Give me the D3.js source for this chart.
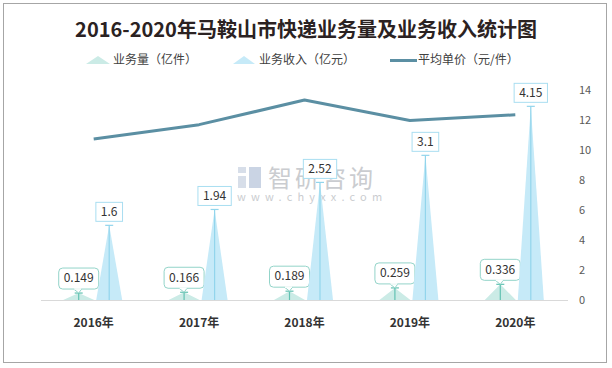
<!DOCTYPE html>
<html><head><meta charset="utf-8">
<script src="https://cdn.jsdelivr.net/npm/d3@7"></script>
<style>
html,body{margin:0;padding:0;background:#fff;}
svg{display:block;font-family:"Microsoft YaHei","Noto Sans CJK SC","Noto Sans",sans-serif;}
</style></head>
<body><svg id="c" width="612" height="368"></svg>
<script>
const categories = ["2016年","2017年","2018年","2019年","2020年"];
const volume = [0.149, 0.166, 0.189, 0.259, 0.336];      // 业务量（亿件）
const revenue = [1.6, 1.94, 2.52, 3.1, 4.15];            // 业务收入（亿元）
const unitPrice = [10.74, 11.69, 13.33, 11.97, 12.35];   // 平均单价（元/件）
const rightTicks = [0,2,4,6,8,10,12,14];
const seriesNames = ["业务量（亿件）","业务收入（亿元）","平均单价（元/件）"];
const title = "2016-2020年马鞍山市快递业务量及业务收入统计图";

const svg = d3.select("#c");
const colVol = "#cbebe6", colVolLine = "#62c2b2", colVolBox = "#93d4c9";
const colRev = "#c6eaf8", colRevLine = "#92d5ec", colRevBox = "#a9def1";
const colLine = "#5b8fa3";

svg.append("rect").attr("x",3.5).attr("y",3.5).attr("width",603).attr("height",359)
  .attr("fill","#fff").attr("stroke","#a6a6a6").attr("stroke-width",1);

svg.append("text").attr("x",306).attr("y",37).attr("text-anchor","middle")
  .attr("font-size",20).attr("font-weight","bold").attr("fill","#2b2222").text(title);

// watermark
const wm = svg.append("g").attr("opacity",0.55);
wm.append("rect").attr("x",238).attr("y",167).attr("width",8).attr("height",6).attr("fill","#b8c4d8");
wm.append("rect").attr("x",238).attr("y",176).attr("width",8).attr("height",12).attr("fill","#b8c4d8");
wm.append("rect").attr("x",249).attr("y",167).attr("width",12).attr("height",21).attr("fill","#9fb2cf");
wm.append("text").attr("x",268).attr("y",187).attr("font-size",24).attr("fill","#a0a4aa").attr("letter-spacing",3).text("智研咨询");
wm.append("text").attr("x",237).attr("y",201).attr("font-size",11).attr("fill","#a0a4aa").attr("letter-spacing",5.2).text("www.chyxx.com");

const x = d3.scaleBand().domain(categories).range([41,568]).padding(0);
const yL = d3.scaleLinear().domain([0,4.5]).range([300,90]);
const yR = d3.scaleLinear().domain([0,14]).range([300,90]);

// baseline
svg.append("line").attr("x1",41).attr("x2",568).attr("y1",300.5).attr("y2",300.5)
  .attr("stroke","#d9d9d9").attr("stroke-width",1);

// right axis
const ax = svg.append("g").attr("transform","translate(579,0)")
  .call(d3.axisRight(yR).tickValues(rightTicks).tickSize(0).tickPadding(0).tickFormat(d3.format("d")));
ax.select(".domain").remove();
ax.selectAll("text").attr("font-size",11).attr("fill","#595959").attr("font-family","'Microsoft YaHei','Noto Sans CJK SC',sans-serif");

// x labels
svg.selectAll(".xl").data(categories).join("text").attr("class","xl")
  .attr("x",d=>x(d)+x.bandwidth()/2).attr("y",327).attr("text-anchor","middle")
  .attr("font-size",12).attr("font-weight","bold").attr("fill","#333").text(d=>d);

const tri = d3.line();
function drawSeries(vals, off, hw, fill, lineCol, boxCol, rounded){
  const g = svg.append("g");
  vals.forEach((v,i)=>{
    const cx = x(categories[i]) + x.bandwidth()/2 + off;
    const yv = yL(v), y0 = yL(0);
    g.append("path").attr("d", tri([[cx-hw,y0],[cx,yv],[cx+hw,y0]])+"Z").attr("fill",fill);
    g.append("line").attr("x1",cx).attr("x2",cx).attr("y1",yv).attr("y2",y0).attr("stroke",lineCol).attr("stroke-width",1.2);
    g.append("line").attr("x1",cx-4).attr("x2",cx+4).attr("y1",yv).attr("y2",yv).attr("stroke",lineCol).attr("stroke-width",1.2);
    const t = g.append("text").attr("x",cx).attr("y",yv-13).attr("text-anchor","middle")
      .attr("dominant-baseline","middle").attr("font-size",12).attr("fill","#333").text(String(v));
    const w = t.node().getComputedTextLength() + 10;
    const bh = rounded ? 21 : 19;
    const by = yv - 4 - bh;
    if (rounded){
      g.insert("path", "text:last-of-type")
        .attr("d", `M${cx-5},${by+bh} L${cx},${yv} L${cx+3},${by+bh}`)
        .attr("fill","#fff").attr("stroke",boxCol).attr("stroke-width",1);
    }
    g.insert("rect","text:last-of-type").attr("x",cx-w/2).attr("y",by).attr("width",w).attr("height",bh)
      .attr("rx",rounded?4:0).attr("fill","#fff").attr("stroke",boxCol).attr("stroke-width",1);
    if (rounded){
      g.insert("line","text:last-of-type").attr("x1",cx-4.5).attr("x2",cx+2.5).attr("y1",by+bh).attr("y2",by+bh)
        .attr("stroke","#fff").attr("stroke-width",1.5);
    }
    t.attr("y", by + bh/2 + 0.5);
  });
}
drawSeries(volume, -15, 15.5, colVol, colVolLine, colVolBox, true);
drawSeries(revenue, 15.5, 13, colRev, colRevLine, colRevBox, false);

// line
svg.append("path").datum(unitPrice)
  .attr("d", d3.line().x((d,i)=>x(categories[i])+x.bandwidth()/2).y(d=>yR(d)))
  .attr("fill","none").attr("stroke",colLine).attr("stroke-width",3).attr("stroke-linejoin","round");

// legend
const lg = svg.append("g");
lg.append("path").attr("d", tri([[86,64],[98,56],[110,64]])+"Z").attr("fill",colVol);
lg.append("path").attr("d", tri([[233,64],[244,56],[255,64]])+"Z").attr("fill",colRev);
lg.append("line").attr("x1",390).attr("x2",417).attr("y1",60.5).attr("y2",60.5).attr("stroke",colLine).attr("stroke-width",3);
[[113,0],[259,1],[418,2]].forEach(([lx,k])=>{
  lg.append("text").attr("x",lx).attr("y",61).attr("dominant-baseline","middle")
    .attr("font-size",12).attr("fill","#404040").text(seriesNames[k]);
});
</script></body></html>
